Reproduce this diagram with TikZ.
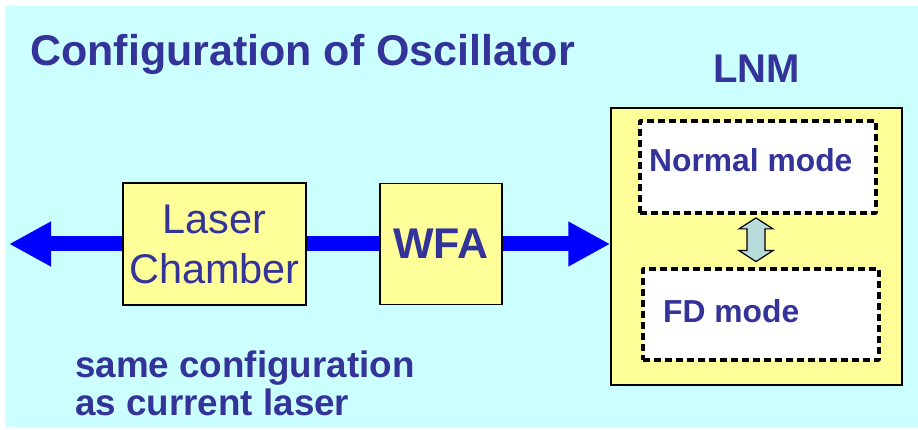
\documentclass[tikz,border=0pt]{standalone}
\usepackage{fontspec}
\setmainfont{Liberation Sans}
\usetikzlibrary{arrows.meta,calc,backgrounds}
\definecolor{bgcyan}{HTML}{CCFFFF}
\definecolor{boxyellow}{HTML}{FFFF99}
\definecolor{txtblue}{HTML}{333399}
\definecolor{arrowblue}{HTML}{0000FF}
\definecolor{dafill}{HTML}{B8DCDC}
\tikzset{
  ybox/.style={draw=black, line width=1.5pt, fill=boxyellow, inner sep=0pt, text=txtblue},
  dbox/.style={draw=black, line width=3.8pt, dash pattern=on 7pt off 4pt, line join=round, fill=white, inner sep=0pt},
  lbl/.style={text=txtblue, font=\bfseries, inner sep=0pt, anchor=base west},
  bigarrow/.style={draw=arrowblue, line width=15pt, -{Triangle[length=42pt,width=42pt]}},
  bigline/.style={draw=arrowblue, line width=15pt},
  modearrow/.style={draw=black, line width=1.2pt, fill=dafill, line join=miter}
}
\begin{document}
\begin{tikzpicture}[x=1pt,y=-1pt]
\useasboundingbox (0,0) rectangle (918,430);
% boxes
\node[ybox, minimum width=183pt, minimum height=122pt, align=center,
      font=\fontsize{41.5}{50}\selectfont] (lc) at (214.5,244) {Laser\\Chamber};
\node[ybox, minimum width=122pt, minimum height=121pt,
      font=\fontsize{43}{50}\selectfont\bfseries] (wfa) at (441,244) {WFA};
\node[ybox, minimum width=291pt, minimum height=277pt] (lnm) at (756.5,246.5) {};
\node[dbox, minimum width=236pt, minimum height=92pt] (nm) at (758,167) {};
\node[dbox, minimum width=236pt, minimum height=91pt] (fd) at (761,314.5) {};
% labels
\node[lbl, font=\fontsize{43}{50}\selectfont\bfseries] (title) at (30,66) {Configuration of Oscillator};
\node[lbl, font=\fontsize{40}{48}\selectfont\bfseries] (lnmlbl) at (713,83) {LNM};
\node[lbl, font=\fontsize{31.8}{38}\selectfont\bfseries] (nmlbl) at (649,172) {Normal mode};
\node[lbl, font=\fontsize{31.8}{38}\selectfont\bfseries] (fdlbl) at (663,322) {FD mode};
\node[lbl, font=\fontsize{36.8}{44}\selectfont\bfseries] (note1) at (75,377) {same configuration};
\node[lbl, font=\fontsize{36.8}{44}\selectfont\bfseries] (note2) at (75,415) {as current laser};
% mode switch arrow
\coordinate (dtop) at ($(nm.south)+(-2,3)$);
\coordinate (dbot) at ($(fd.north)+(-5,-5.5)$);
\draw[modearrow] (dtop) -- ($(dtop)+(17,11)$) -- ($(dtop)+(9,11)$) -- ($(dbot)+(9,-11)$)
  -- ($(dbot)+(17,-11)$) -- (dbot) -- ($(dbot)+(-17,-11)$) -- ($(dbot)+(-9,-11)$)
  -- ($(dtop)+(-9,11)$) -- ($(dtop)+(-17,11)$) -- cycle;
\begin{pgfonlayer}{background}
\fill[white] (0,0) rectangle (918,430);
\fill[bgcyan] (5,6) rectangle (918,427);
\coordinate (leftend) at (9,244);
\draw[bigarrow] (lc.west) -- (leftend);
\draw[bigline] (lc.east) -- (wfa.west);
\draw[bigarrow] (wfa.east) -- (wfa.east -| lnm.west);
\end{pgfonlayer}
\end{tikzpicture}
\end{document}
